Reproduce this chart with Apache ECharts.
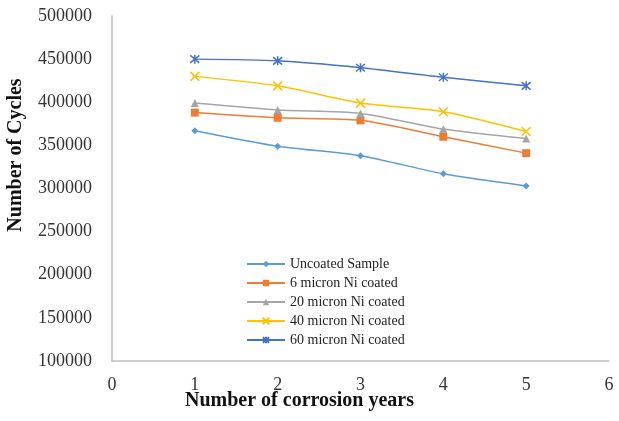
<!DOCTYPE html>
<html><head><meta charset="utf-8">
<script src="https://cdn.jsdelivr.net/npm/echarts@6/dist/echarts.min.js"></script>
<style>html,body{margin:0;padding:0;background:#fff}#c{width:619px;height:421px}</style>
</head><body><div id="c"></div>
<script>
const years = [1, 2, 3, 4, 5];
const seriesNames = ["Uncoated Sample", "6 micron Ni coated", "20 micron Ni coated", "40 micron Ni coated", "60 micron Ni coated"];
const uncoated = [367000, 349000, 338000, 317000, 303000];
const micron6 = [388000, 382000, 379000, 360000, 341000];
const micron20 = [399000, 391000, 387000, 369000, 358000];
const micron40 = [430000, 419000, 399000, 389000, 366000];
const micron60 = [450000, 448000, 440000, 429000, 419000];
const yTicks = [100000, 150000, 200000, 250000, 300000, 350000, 400000, 450000, 500000];

const colors = ['#5b9bd5', '#ed7d31', '#a5a5a5', '#ffc000', '#4472c4'];
const xPath = 'path://M0,0L10,10M10,0L0,10';
const starPath = 'path://M0,0L10,10M10,0L0,10M5,-1L5,11';
const symbols = ['diamond', 'rect', 'triangle', xPath, starPath];
const sizes = [7, 8, 8, 9, 9];
const data = [uncoated, micron6, micron20, micron40, micron60];

const serif = '"Liberation Serif", "DejaVu Serif", serif';
const chart = echarts.init(document.getElementById('c'));
chart.setOption({
  animation: false,
  grid: { left: 112, right: 10, top: 16, bottom: 60 },
  xAxis: {
    type: 'value', min: 0, max: 6, interval: 1,
    axisLine: { lineStyle: { color: '#bfbfbf', width: 1.5 } },
    axisTick: { show: false },
    splitLine: { show: false },
    axisLabel: { fontFamily: serif, fontSize: 18, color: '#333', margin: 15 }
  },
  yAxis: {
    type: 'value', min: yTicks[0], max: yTicks[yTicks.length - 1], interval: 50000,
    axisLine: { show: true, lineStyle: { color: '#bfbfbf', width: 1.5 } },
    axisTick: { show: false },
    splitLine: { show: false },
    axisLabel: { fontFamily: serif, fontSize: 18, color: '#333', margin: 20, formatter: v => String(v) }
  },
  legend: {
    orient: 'vertical', left: 241, top: 252, itemGap: 5, itemWidth: 38, itemHeight: 8,
    textStyle: { fontFamily: serif, fontSize: 14, color: '#222' },
    data: seriesNames
  },
  graphic: [
    { type: 'text', left: 185, top: 391,
      style: { text: 'Number of corrosion years', font: 'bold 20px ' + serif, fill: '#111' } },
    { type: 'text', x: 6, y: 155, rotation: Math.PI / 2,
      style: { text: 'Number of Cycles', font: 'bold 20px ' + serif, fill: '#111', align: 'center', verticalAlign: 'top' } }
  ],
  series: data.map((d, i) => ({
    name: seriesNames[i], type: 'line', smooth: 0.25,
    data: d.map((v, j) => [years[j], v]),
    symbol: symbols[i], symbolSize: sizes[i], showSymbol: true,
    lineStyle: { color: colors[i], width: 1.5 },
    itemStyle: { color: colors[i], borderColor: colors[i], borderWidth: i >= 3 ? 1.5 : 0 }
  }))
});
</script></body></html>
